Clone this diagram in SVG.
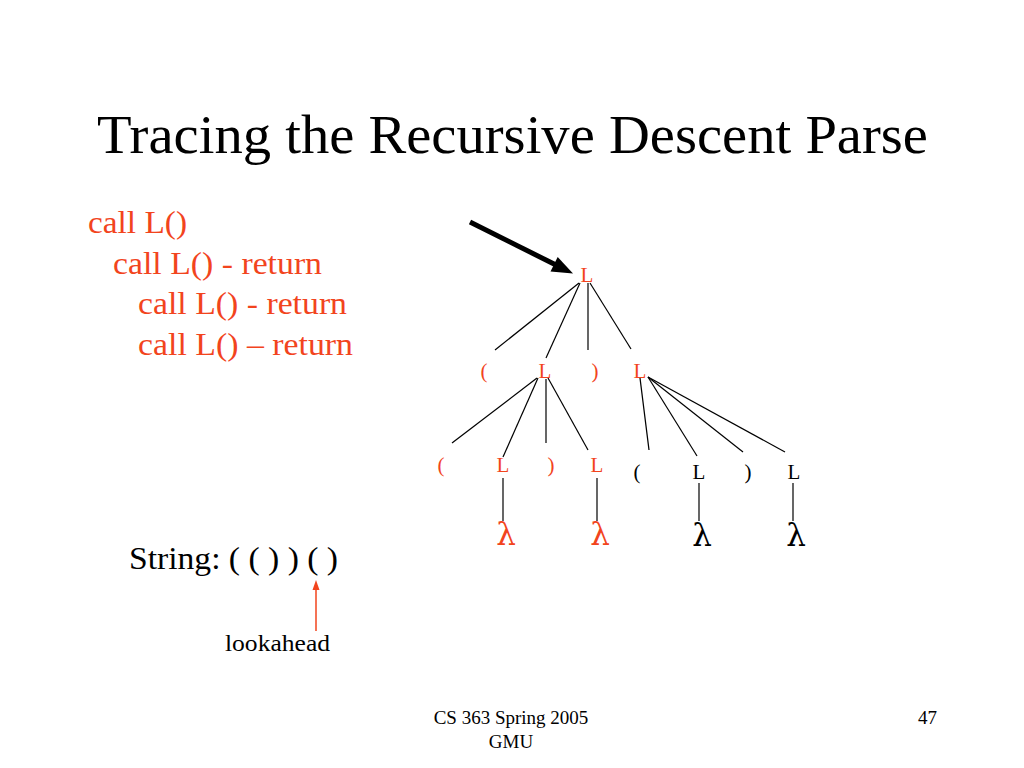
<svg xmlns="http://www.w3.org/2000/svg" width="1024" height="768" viewBox="0 0 1024 768">
<style>
text{font-family:"Liberation Serif","Times New Roman",serif;}
.title{font-size:54px;fill:#000;}
.trace{font-size:32px;fill:#F2441D;}
.str{font-size:32px;fill:#000;}
.small{font-size:24px;fill:#000;}
.foot{font-size:19px;fill:#000;}
.n{font-size:21px;text-anchor:middle;}
.red{fill:#F2441D;}
.blk{fill:#000;}
.lam{font-family:"DejaVu Serif","Liberation Serif",serif;font-size:31px;text-anchor:middle;}
.edge{stroke:#000;stroke-width:1.2;fill:none;}
</style>
<rect width="1024" height="768" fill="#fff"/>
<text class="title" x="97" y="153" textLength="831" lengthAdjust="spacingAndGlyphs">Tracing the Recursive Descent Parse</text>
<g id="trace">
<text class="trace" x="88" y="233" textLength="99" lengthAdjust="spacingAndGlyphs">call L()</text>
<text class="trace" x="113" y="274" textLength="209" lengthAdjust="spacingAndGlyphs">call L() - return</text>
<text class="trace" x="138" y="314" textLength="209" lengthAdjust="spacingAndGlyphs">call L() - return</text>
<text class="trace" x="138" y="355" textLength="215" lengthAdjust="spacingAndGlyphs">call L() – return</text>
</g>
<g id="connectors">
<line class="edge" x1="579" y1="283" x2="495" y2="350"/>
<line class="edge" x1="580" y1="283" x2="546" y2="358"/>
<line class="edge" x1="588" y1="283" x2="588" y2="350"/>
<line class="edge" x1="590" y1="283" x2="631" y2="349"/>
<line class="edge" x1="537" y1="378" x2="452" y2="443"/>
<line class="edge" x1="538" y1="378" x2="503" y2="457"/>
<line class="edge" x1="546" y1="379" x2="546" y2="443"/>
<line class="edge" x1="548" y1="378" x2="588" y2="450"/>
<line class="edge" x1="640" y1="378" x2="649" y2="450"/>
<line class="edge" x1="648" y1="377" x2="697" y2="456"/>
<line class="edge" x1="648" y1="377" x2="743" y2="452"/>
<line class="edge" x1="648" y1="377" x2="785" y2="452"/>
<line class="edge" x1="503" y1="478" x2="503" y2="521"/>
<line class="edge" x1="597" y1="478" x2="597" y2="521"/>
<line class="edge" x1="699" y1="483" x2="699" y2="521"/>
<line class="edge" x1="793" y1="483" x2="793" y2="521"/>
<g id="pointer">
<line x1="470" y1="222" x2="556" y2="265" stroke="#000" stroke-width="5"/>
<polygon points="573,273.5 550.5,271.5 557.7,256.9" fill="#000"/>
</g>
<g id="lookahead-arrow">
<line x1="316" y1="631" x2="316" y2="588" stroke="#F2441D" stroke-width="1.5"/>
<polygon points="316,580 312.5,590 319.5,590" fill="#F2441D"/>
</g>
</g>
<g id="root"><text class="n red" x="587" y="282">L</text></g>
<g id="l2-open"><text class="n red" x="484" y="378">(</text></g>
<g id="l2-L1"><text class="n red" x="545" y="378">L</text></g>
<g id="l2-close"><text class="n red" x="595" y="378">)</text></g>
<g id="l2-L2"><text class="n red" x="640" y="378">L</text></g>
<g id="l3-open-a"><text class="n red" x="441" y="472">(</text></g>
<g id="l3-L-a"><text class="n red" x="503" y="472">L</text></g>
<g id="l3-close-a"><text class="n red" x="551" y="472">)</text></g>
<g id="l3-L-b"><text class="n red" x="597" y="472">L</text></g>
<g id="l3-open-c"><text class="n blk" x="637" y="479">(</text></g>
<g id="l3-L-c"><text class="n blk" x="699" y="479">L</text></g>
<g id="l3-close-c"><text class="n blk" x="748" y="479">)</text></g>
<g id="l3-L-d"><text class="n blk" x="794" y="479">L</text></g>
<g id="lam-a"><text class="lam red" x="506" y="545">λ</text></g>
<g id="lam-b"><text class="lam red" x="600" y="545">λ</text></g>
<g id="lam-c"><text class="lam blk" x="702" y="546">λ</text></g>
<g id="lam-d"><text class="lam blk" x="796" y="546">λ</text></g>
<g id="string"><text class="str" x="129" y="569" textLength="209" lengthAdjust="spacingAndGlyphs">String: ( ( ) ) ( )</text></g>
<g id="lookahead"><text class="small" x="225" y="651" textLength="105" lengthAdjust="spacingAndGlyphs">lookahead</text></g>
<g id="footer">
<text class="foot" x="511" y="724" text-anchor="middle">CS 363 Spring 2005</text>
<text class="foot" x="511" y="748" text-anchor="middle">GMU</text>
<text class="foot" x="918" y="724">47</text>
</g>
</svg>
